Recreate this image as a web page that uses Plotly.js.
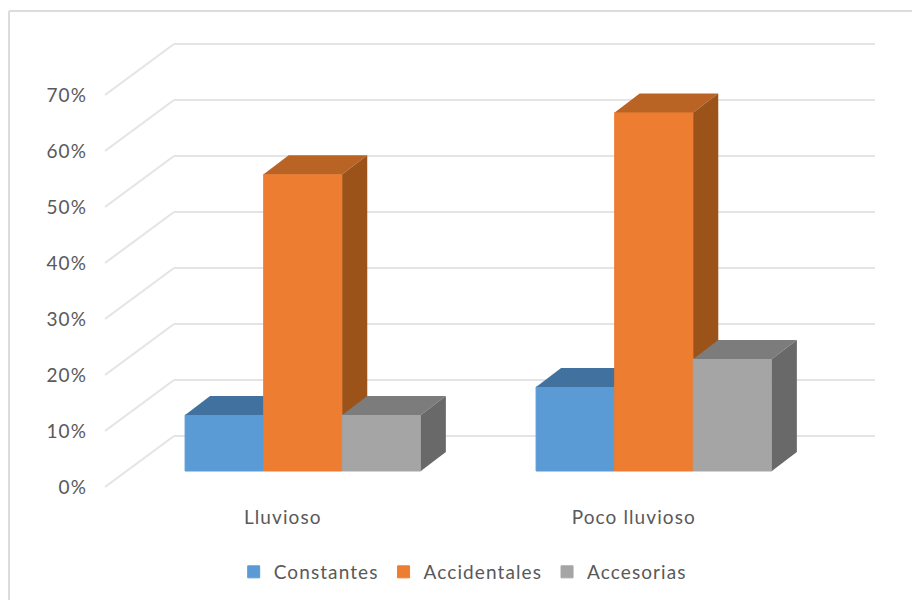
<!DOCTYPE html>
<html>
<head>
<meta charset="utf-8">
<script src="https://cdn.plot.ly/plotly-3.0.1.min.js"></script>
<style>
html,body{margin:0;padding:0;background:#fff}
text{letter-spacing:1.1px}
</style>
</head>
<body>
<div id="chart" style="width:912px;height:600px"></div>
<script>
// Share of species per class in each rainfall season
const categories = ['Lluvioso', 'Poco lluvioso'];
const constantes = [10, 15];
const accidentales = [53, 64];
const accesorias = [10, 20];
const yTicks = [0, 10, 20, 30, 40, 50, 60, 70];
const yTickLabels = ['0%', '10%', '20%', '30%', '40%', '50%', '60%', '70%'];

// Oblique projection, in axis units
const WALL_DX = 0.1966, WALL_DY = 9.107;      // front plane to back wall
const WALL_LEFT = -0.4986, WALL_RIGHT = 1.695;
const BAR_SHIFT = 0.0655, BAR_FLOOR = 2.857;  // bars stand a third of the way in
const BAR_W = 0.2239, BAR_DX = 0.0712, BAR_DY = 3.39;

const series = [
  {name: 'Constantes',   values: constantes,   front: '#5B9BD5', top: '#41729F', side: '#3F6F9B', slot: -1},
  {name: 'Accidentales', values: accidentales, front: '#ED7D31', top: '#B96325', side: '#9C5319', slot: 0},
  {name: 'Accesorias',   values: accesorias,   front: '#A5A5A5', top: '#7C7C7C', side: '#696969', slot: 1}
];

const xRange = [-0.5128, 1.7094], yRange = [-0.536, 79.82];
const traces = [];
const layout = {
  width: 912, height: 600, autosize: false,
  margin: {l: 100, r: 32, t: 40, b: 110, pad: 0},
  paper_bgcolor: '#fff', plot_bgcolor: 'rgba(0,0,0,0)',
  font: {family: 'Lato, sans-serif', size: 19, color: '#595959'},
  showlegend: true,
  legend: {orientation: 'h', x: 0.465, xanchor: 'center', yref: 'container', y: 0.0467, yanchor: 'middle',
           traceorder: 'normal', font: {size: 19, color: '#595959'}},
  xaxis: {range: xRange, tickmode: 'array', tickvals: [0.008, 1.008], ticktext: categories,
          showgrid: false, zeroline: false, showline: false, ticks: '', ticklabelstandoff: 14, fixedrange: true},
  yaxis: {range: yRange, tickmode: 'array', tickvals: yTicks, ticktext: yTickLabels,
          showgrid: false, zeroline: false, showline: false, ticks: '', ticklabelstandoff: 12, fixedrange: true},
  shapes: []
};

// Wall gridlines: a diagonal from the front plane, then along the back wall
const gridStyle = {color: '#E4E4E4', width: 2};
yTicks.forEach(v => {
  layout.shapes.push({type: 'line', layer: 'below', xref: 'x', yref: 'y', line: gridStyle,
    x0: WALL_LEFT, y0: v, x1: WALL_LEFT + WALL_DX, y1: v + WALL_DY});
  layout.shapes.push({type: 'line', layer: 'below', xref: 'x', yref: 'y', line: gridStyle,
    x0: WALL_LEFT + WALL_DX, y0: v + WALL_DY, x1: WALL_RIGHT, y1: v + WALL_DY});
});

// Chart frame: only the top and left edges fall inside the page
const px = p => (p - 100) / 780, py = p => (490 - p) / 450;
const frameStyle = {color: '#DCDCDC', width: 2};
layout.shapes.push({type: 'line', layer: 'below', xref: 'paper', yref: 'paper', line: frameStyle,
  x0: px(9), x1: px(912), y0: py(11), y1: py(11)});
layout.shapes.push({type: 'line', layer: 'below', xref: 'paper', yref: 'paper', line: frameStyle,
  x0: px(9), x1: px(9), y0: py(11), y1: py(600)});

// Each series gets its own overlaid axis pair so later bars paint over earlier side faces
series.forEach((s, i) => {
  const xa = i === 0 ? 'x' : 'x' + (i + 1);
  const ya = i === 0 ? 'y' : 'y' + (i + 1);
  if (i > 0) {
    layout['xaxis' + (i + 1)] = {range: xRange, overlaying: 'x', anchor: ya, visible: false, fixedrange: true};
    layout['yaxis' + (i + 1)] = {range: yRange, overlaying: 'y', anchor: xa, visible: false, fixedrange: true};
  }
  const centers = categories.map((_, c) => c + BAR_SHIFT + s.slot * BAR_W);
  traces.push({
    type: 'bar', name: s.name, xaxis: xa, yaxis: ya,
    x: centers, y: s.values, base: categories.map(() => BAR_FLOOR), width: BAR_W,
    marker: {color: s.front, line: {width: 1, color: s.front}}, hoverinfo: 'skip'
  });
  s.values.forEach((v, c) => {
    const l = centers[c] - BAR_W / 2, r = centers[c] + BAR_W / 2;
    const t = v + BAR_FLOOR;
    const poly = (xs, ys, color) => traces.push({
      type: 'scatter', mode: 'lines', fill: 'toself', fillcolor: color, line: {width: 0, color: color},
      x: xs, y: ys, xaxis: xa, yaxis: ya, showlegend: false, hoverinfo: 'skip'
    });
    poly([l, r, r + BAR_DX, l + BAR_DX, l], [t, t, t + BAR_DY, t + BAR_DY, t], s.top);
    poly([r, r + BAR_DX, r + BAR_DX, r, r],
         [BAR_FLOOR, BAR_FLOOR + BAR_DY, t + BAR_DY, t, BAR_FLOOR], s.side);
  });
});

Plotly.newPlot('chart', traces, layout, {displayModeBar: false, staticPlot: true});
</script>
</body>
</html>
